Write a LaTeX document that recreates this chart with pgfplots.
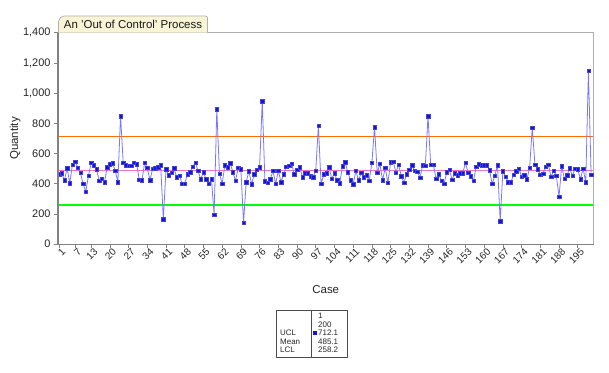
\documentclass[border=0pt]{standalone}
\usepackage{pgfplots}
\pgfplotsset{compat=1.18}
\usepackage{pgfplotstable}
\usepackage{fontspec}
\setmainfont{Liberation Sans}
\usetikzlibrary{calc}
\definecolor{ptline}{RGB}{120,120,255}
\definecolor{ptmark}{RGB}{20,20,210}
\definecolor{tabfill}{RGB}{248,244,214}
\definecolor{axgray}{RGB}{130,130,130}
\definecolor{framegray}{RGB}{175,175,175}

\pgfplotstableread{
case val
1 463
2 470
3 423
4 503
5 404
6 527
7 547
8 507
9 472
10 399
11 349
12 454
13 538
14 522
15 496
16 419
17 434
18 412
19 511
20 531
21 536
22 487
23 410
24 848
25 538
26 522
27 520
28 518
29 540
30 531
31 428
32 423
33 538
34 505
35 423
36 500
37 503
38 509
39 522
40 166
41 496
42 456
43 474
44 503
45 443
46 454
47 401
48 401
49 463
50 476
51 514
52 540
53 485
54 430
55 476
56 430
57 399
58 430
59 195
60 894
61 467
62 401
63 522
64 511
65 536
66 478
67 419
68 505
69 496
70 144
71 412
72 483
73 397
74 463
75 492
76 509
77 947
78 417
79 406
80 430
81 485
82 399
83 487
84 412
85 463
86 514
87 518
88 533
89 463
90 492
91 511
92 445
93 470
94 470
95 450
96 445
97 485
98 784
99 399
100 463
101 470
102 509
103 432
104 470
105 423
106 404
107 516
108 544
109 476
110 423
111 397
112 485
113 423
114 472
115 443
116 456
117 421
118 538
119 775
120 472
121 533
122 423
123 505
124 406
125 542
126 547
127 474
128 527
129 450
130 408
131 463
132 492
133 522
134 485
135 481
136 441
137 522
138 520
139 848
140 525
141 527
142 434
143 465
144 419
145 399
146 476
147 492
148 428
149 470
150 456
151 470
152 470
153 540
154 472
155 450
156 419
157 514
158 529
159 522
160 522
161 522
162 490
163 399
164 455
165 523
166 152
167 483
168 448
169 410
170 410
171 461
172 483
173 501
174 448
175 457
176 430
177 505
178 772
179 525
180 497
181 459
182 468
183 512
184 527
185 446
186 485
187 452
188 316
189 516
190 435
191 457
192 503
193 452
194 501
195 497
196 430
197 501
198 410
199 1147
200 461
}\datatable

\begin{document}
\begin{tikzpicture}
\begin{axis}[
  scale only axis,
  width=535.5bp, height=211.5bp,
  xmin=0.6, xmax=200.9, ymin=0, ymax=1400,
  axis line style={framegray, line width=0.8bp},
  xtick={1,7,13,20,27,34,41,48,55,62,69,76,83,90,97,104,111,118,125,132,139,146,153,160,167,174,181,188,195},
  ytick={0,200,400,600,800,1000,1200,1400},
  xtick pos=bottom, ytick pos=left,
  tick align=outside,
  major tick length=4bp,
  tick style={axgray, line width=0.6bp},
  yticklabel style={font=\fontsize{11}{13}\selectfont, text=black!85, /pgf/number format/1000 sep={,}, /pgf/number format/assume math mode=true},
  xticklabel style={font=\fontsize{10}{12}\selectfont, text=black!85, rotate=45, anchor=north east, inner sep=0.5bp, xshift=2.5bp, yshift=-0.5bp},
  /pgf/number format/assume math mode=true,
  xlabel={Case},
  ylabel={Quantity},
  xlabel style={font=\fontsize{11.5}{13}\selectfont, text=black!85, at={(0.5,-0.213)}, anchor=center},
  ylabel style={font=\fontsize{11.5}{13}\selectfont, text=black!85, at={(-0.08,0.5)}, anchor=center},
  clip=false,
]
\addplot[draw=orange!85!red, line width=1.3bp, forget plot] coordinates {(0.9,712.1) (200.7,712.1)};
\addplot[draw=magenta!55!white, line width=1.1bp, forget plot] coordinates {(0.9,485.1) (200.7,485.1)};
\addplot[draw=green, line width=1.4bp, forget plot] coordinates {(0.9,258.2) (200.7,258.2)};
\addplot[color=ptline, line width=0.8bp, mark=square*, mark size=1.7bp,
  mark options={fill=ptmark, draw=ptmark!80!white, line width=0.3bp}] table[x=case, y=val] {\datatable};
\coordinate (SW) at (rel axis cs:0,0);
\coordinate (SE) at (rel axis cs:1,0);
\coordinate (NW) at (rel axis cs:0,1);
\coordinate (NE) at (rel axis cs:1,1);
\end{axis}
% darker left and bottom axis lines
\draw[axgray, line width=1.3bp] (NW) -- (SW) -- (SE);
% title tab
\draw[framegray, line width=0.7bp, fill=tabfill, rounded corners=2bp]
  ($(NW)+(0.5bp,0)$) -- ($(NW)+(0.5bp,13bp)$) -- ($(NW)+(4bp,16.7bp)$) -- ($(NW)+(149.5bp,16.7bp)$) -- ($(NW)+(149.5bp,0)$);
\node[font=\fontsize{11.5}{13}\selectfont, text=black!90, inner sep=0pt] at ($(NW)+(75bp,8.3bp)$) {An 'Out of Control' Process};
% legend table
\draw[black!70, line width=0.6bp] ($(SW)+(218bp,-66bp)$) rectangle ($(SW)+(289bp,-113bp)$);
\draw[black!70, line width=0.6bp] ($(SW)+(253bp,-66bp)$) -- ($(SW)+(253bp,-113bp)$);
\begin{scope}[every node/.style={font=\fontsize{8}{9}\selectfont, text=black!85, inner sep=0pt, anchor=west}]
\node at ($(SW)+(260bp,-72bp)$) {1};
\node at ($(SW)+(260bp,-80.5bp)$) {200};
\node at ($(SW)+(260bp,-89bp)$) {712.1};
\node at ($(SW)+(260bp,-97.5bp)$) {485.1};
\node at ($(SW)+(260bp,-106bp)$) {258.2};
\node at ($(SW)+(222bp,-89bp)$) {UCL};
\node at ($(SW)+(222bp,-97.5bp)$) {Mean};
\node at ($(SW)+(222bp,-106bp)$) {LCL};
\end{scope}
\fill[ptmark] ($(SW)+(254.8bp,-91bp)$) rectangle ($(SW)+(258.6bp,-87.2bp)$);
% bounding box
\pgfresetboundingbox
\path[use as bounding box] ($(SW)+(-58bp,-128bp)$) rectangle ($(NE)+(15.5bp,32.7bp)$);
\end{tikzpicture}
\end{document}
